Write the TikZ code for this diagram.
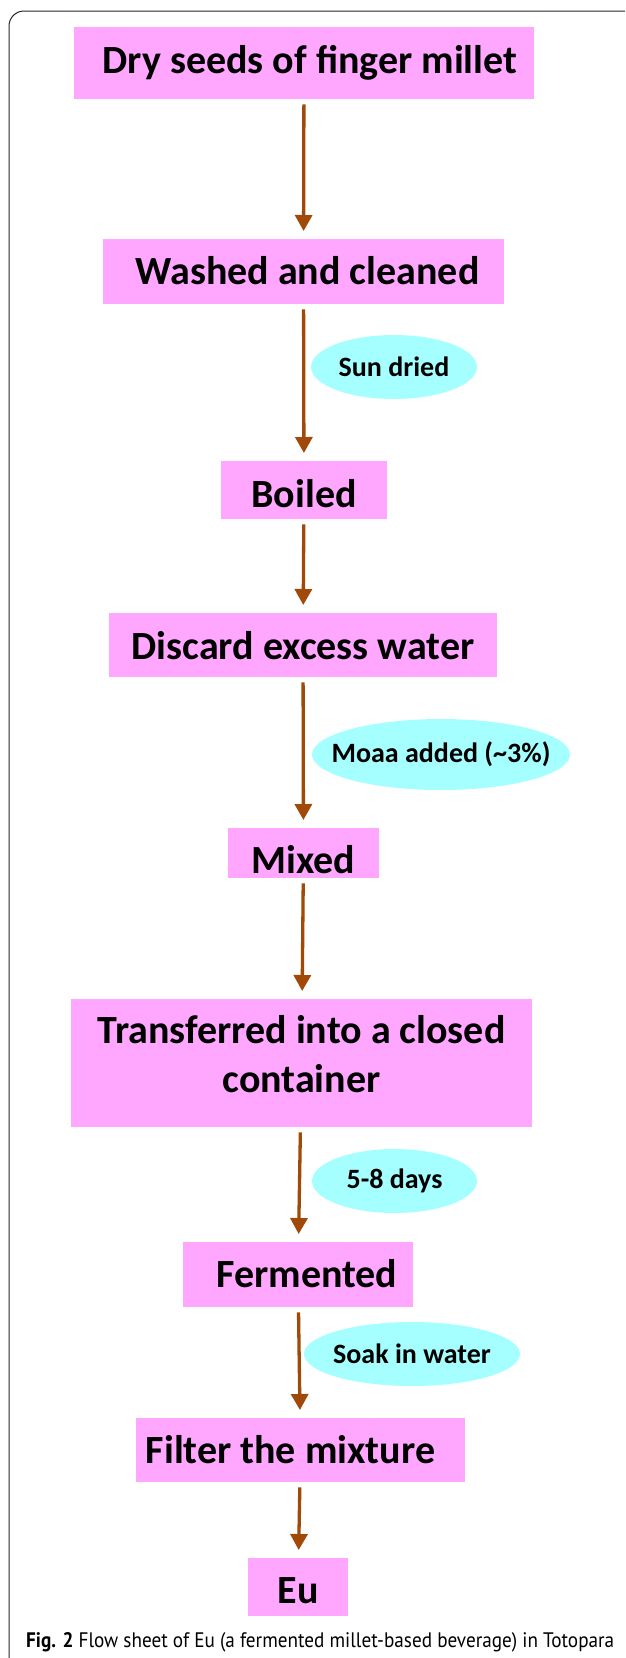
\documentclass[tikz,border=0pt]{standalone}
\usepackage{fontspec}
\usepackage{graphicx}
\setmainfont{Carlito}
\newfontfamily\capfont{PT Sans}
\usetikzlibrary{arrows.meta,shapes.geometric}
\definecolor{boxpink}{RGB}{255,166,255}
\definecolor{notecyan}{RGB}{166,255,255}
\definecolor{arrowbrown}{RGB}{160,73,8}

\begin{document}
\begin{tikzpicture}[x=1pt,y=-1pt,
 stage/.style={rectangle,fill=boxpink,inner sep=0pt,anchor=north,align=center,text depth=0pt,
  font=\fontsize{40}{49}\selectfont\bfseries},
 note/.style={ellipse,fill=notecyan,inner xsep=-30pt,inner ysep=0pt,font=\fontsize{28}{32}\selectfont\bfseries},
 flow/.style={-{Triangle[width=17pt,length=16pt]},line width=3.3pt,draw=arrowbrown,
  shorten <=5pt,shorten >=8pt}]
\useasboundingbox (0,0) rectangle (625,1658);
\clip (0,0) rectangle (625,1658);
\draw[black!85,line width=1pt,rounded corners=15pt] (9,11) rectangle (660,1700);
% process steps
\node[stage,minimum width=460pt,minimum height=72pt,text height=20pt] (dry) at (304,27) {\hspace*{12pt}Dry seeds of finger millet};
\node[stage,minimum width=401pt,minimum height=65pt,text height=25pt] (washed) at (303.5,239) {\hspace*{8pt}Washed and cleaned};
\node[stage,minimum width=166pt,minimum height=58pt,text height=34pt] (boiled) at (304,461) {Boiled};
\node[stage,minimum width=388pt,minimum height=64pt,text height=28pt] (discard) at (303,613) {Discard excess water};
\node[stage,minimum width=151pt,minimum height=50pt,text height=40pt] (mixed) at (303.5,828) {Mixed};
\node[stage,minimum width=461pt,minimum height=128pt,text height=58pt] (closed) at (301.5,999) {Transferred into a closed\\container};
\node[stage,minimum width=230pt,minimum height=65pt,text height=25pt] (ferment) at (298,1242) {\hspace*{18pt}Fermented};
\node[stage,minimum width=329pt,minimum height=64pt,text height=26pt] (filter) at (300.5,1418) {Filter the mixture\hspace*{20pt}};
\node[stage,minimum width=100pt,minimum height=58pt,text height=32pt] (eu) at (298,1558) {Eu};
% side notes
\node[note,minimum width=166pt,minimum height=64pt] (sun) at (394,367) {Sun dried};
\node[note,minimum width=258pt,minimum height=71pt] (moaa) at (441,754.5) {Moaa added (\textasciitilde3\%)};
\node[note,minimum width=165pt,minimum height=64pt] (days) at (394.5,1181) {5-8 days};
\node[note,minimum width=216pt,minimum height=64pt] (soak) at (412,1354) {Soak in water};
\foreach \a/\b in {dry/washed,washed/boiled,boiled/discard,discard/mixed,mixed/closed,closed/ferment,ferment/filter,filter/eu}
 \draw[flow] (\a) -- (\b);
\node[anchor=base west,inner sep=0pt,font=\capfont\fontsize{21}{25}\selectfont] (caption) at (26,1647)
 {\resizebox{588pt}{\height}{\textbf{Fig. 2} Flow sheet of Eu (a fermented millet-based beverage) in Totopara}};
\end{tikzpicture}
\end{document}
